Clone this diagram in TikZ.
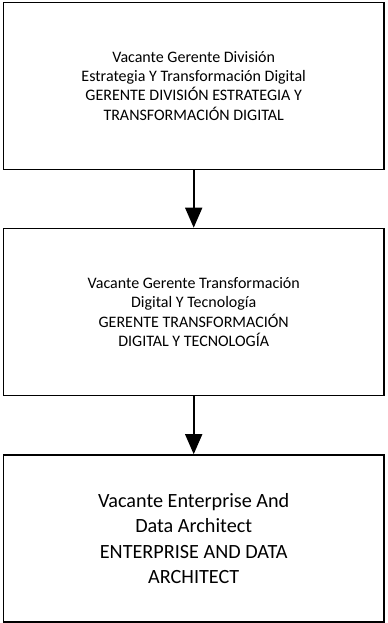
\documentclass[tikz,border=0pt]{standalone}
\usepackage{fontspec}
\setmainfont{Carlito}
\usetikzlibrary{arrows.meta}
\tikzset{
  orgbox/.style={draw=black, line width=1.6bp, fill=white, minimum width=380.5bp, minimum height=167bp, inner sep=0pt},
  boxtext/.style={align=center, inner sep=0pt},
  smalltext/.style={font=\fontsize{16bp}{19.1bp}\selectfont},
  bigtext/.style={font=\fontsize{20.2bp}{25.5bp}\selectfont},
  link/.style={line width=1.6bp, -{Triangle[length=20bp,width=17bp]}}
}
\begin{document}
\begin{tikzpicture}[x=1bp,y=-1bp]
\useasboundingbox (0,0) rectangle (387,623);
\node[orgbox, boxtext, smalltext] (b1) at (193.7,86) {Vacante Gerente División\\Estrategia Y Transformación Digital\\GERENTE DIVISIÓN ESTRATEGIA Y\\TRANSFORMACIÓN DIGITAL};
\node[orgbox, boxtext, smalltext] (b2) at (193.7,312) {Vacante Gerente Transformación\\Digital Y Tecnología\\GERENTE TRANSFORMACIÓN\\DIGITAL Y TECNOLOGÍA};
\node[orgbox, boxtext, bigtext] (b3) at (193.7,538.5) {Vacante Enterprise And\\Data Architect\\ENTERPRISE AND DATA\\ARCHITECT};
\draw[link] (b1.south) -- (b2.north);
\draw[link] (b2.south) -- (b3.north);
\end{tikzpicture}
\end{document}
